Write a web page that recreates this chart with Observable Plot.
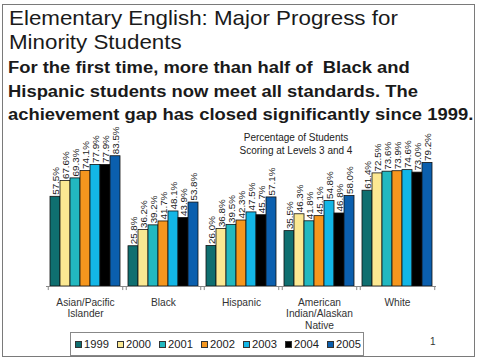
<!DOCTYPE html>
<html>
<head>
<meta charset="utf-8">
<script src="https://cdn.jsdelivr.net/npm/d3@7"></script>
<script src="https://cdn.jsdelivr.net/npm/@observablehq/plot@0.6"></script>
<style>
  html, body { margin: 0; padding: 0; background: #fff; }
  #wrap { position: relative; width: 480px; height: 361px; overflow: hidden; font-family: Arial, "Liberation Sans", sans-serif; }
  #frame { position: absolute; left: 2px; top: 4px; width: 471px; height: 351px; border: 1px solid #7a7a7a; }
  .abs { position: absolute; white-space: nowrap; }
  #title { left: 9px; top: 7px; font-size: 19.8px; line-height: 23.5px; color: #1a1a1a; transform: scaleX(1.13); transform-origin: 0 0; }
  #sub { left: 8px; top: 56px; font-size: 16.3px; line-height: 23.5px; font-weight: bold; color: #1a1a1a; transform: scaleX(1.13); transform-origin: 0 0; }
  #inner { left: 236px; top: 131px; width: 120px; text-align: center; font-size: 10px; line-height: 13px; color: #222; }
  #legend { left: 70px; top: 332px; width: 288px; height: 22px; border: 1px solid #888; display: flex; align-items: center; padding-left: 4px; box-sizing: content-box; }
  .item { display: flex; align-items: center; width: 42px; flex: none; font-size: 11.2px; color: #222; }
  .sw { width: 5px; height: 5px; border: 1px solid #333; margin-right: 2px; }
  #page { left: 430px; top: 336px; font-size: 10px; color: #333; }
  #plot { position: absolute; left: 0; top: 0; }
</style>
</head>
<body>
<div id="wrap">
  <div id="frame"></div>
  <div id="plot"></div>
  <div class="abs" id="title">Elementary English: Major Progress for<br>Minority Students</div>
  <div class="abs" id="sub">For the first time, more than half of&nbsp; Black and<br>Hispanic students now meet all standards. The<br>achievement gap has closed significantly since 1999.</div>
  <div class="abs" id="inner">Percentage of Students<br>Scoring at Levels 3 and 4</div>
  <div class="abs" id="legend"></div>
  <div class="abs" id="page">1</div>
</div>
<script>
const groups = ["Asian/Pacific Islander", "Black", "Hispanic", "American Indian/Alaskan Native", "White"];
const groupLabels = ["Asian/Pacific\nIslander", "Black", "Hispanic", "American\nIndian/Alaskan\nNative", "White"];
const years = ["1999", "2000", "2001", "2002", "2003", "2004", "2005"];
const colors = ["#0f6f70", "#fbe892", "#22b8c0", "#f5961e", "#13b6e6", "#000000", "#0b5fae"];
const asianPacific = [57.5, 67.6, 69.3, 74.1, 77.9, 77.9, 83.5];
const black = [25.8, 36.2, 39.2, 41.7, 48.1, 43.9, 53.8];
const hispanic = [26.0, 36.8, 39.5, 42.3, 47.5, 45.7, 57.1];
const americanIndian = [35.5, 46.3, 41.8, 45.1, 54.8, 46.8, 58.0];
const white = [61.4, 72.5, 73.6, 73.9, 74.6, 73.0, 79.2];

const series = [asianPacific, black, hispanic, americanIndian, white];
const data = groups.flatMap((g, i) => years.map((y, j) => ({group: g, year: y, value: series[i][j]})));

const W = 480, H = 361, mL = 45, mR = 43, mT = 130, mB = 75;
const po = 0.18;
const facetW = (W - mL - mR) / groups.length;
const step = facetW / (years.length + 2 * po);
const edge = (po + 0.5) * step;

const chart = Plot.plot({
  width: W, height: H,
  marginLeft: mL, marginRight: mR, marginTop: mT, marginBottom: mB,
  style: {background: "transparent", fontFamily: "Arial, 'Liberation Sans', sans-serif"},
  fx: {domain: groups, padding: 0, axis: null},
  x: {domain: years, paddingInner: 0, paddingOuter: po, axis: null},
  y: {domain: [0, 100], axis: null},
  color: {domain: years, range: colors},
  marks: [
    Plot.barY(data, {fx: "group", x: "year", y: "value", fill: "year", stroke: "#111", strokeWidth: 0.8}),
    Plot.text(data, {fx: "group", x: "year", y: "value", text: d => d3.format(".1f")(d.value) + "%", rotate: -90, textAnchor: "start", dy: -2, fontSize: 9.8, fill: "#222"}),
    Plot.ruleY([0], {stroke: "#888"}),
    Plot.ruleX(groups, {fx: d => d, x: () => years[0], y1: 0, y2: -2.6, dx: -edge, stroke: "#888"}),
    Plot.ruleX(groups, {fx: d => d, x: () => years[years.length - 1], y1: 0, y2: -2.6, dx: edge, stroke: "#888"}),
    Plot.text(groups, {fx: d => d, text: (d, i) => groupLabels[i], frameAnchor: "bottom", lineAnchor: "top", dy: 11, fontSize: 10.2, lineHeight: 1.13, fill: "#333"})
  ]
});
document.getElementById("plot").appendChild(chart);

const legend = document.getElementById("legend");
years.forEach((y, i) => {
  const it = document.createElement("div");
  it.className = "item";
  const sw = document.createElement("div");
  sw.className = "sw";
  sw.style.background = colors[i];
  it.appendChild(sw);
  it.appendChild(document.createTextNode(y));
  legend.appendChild(it);
});
</script>
</body>
</html>
